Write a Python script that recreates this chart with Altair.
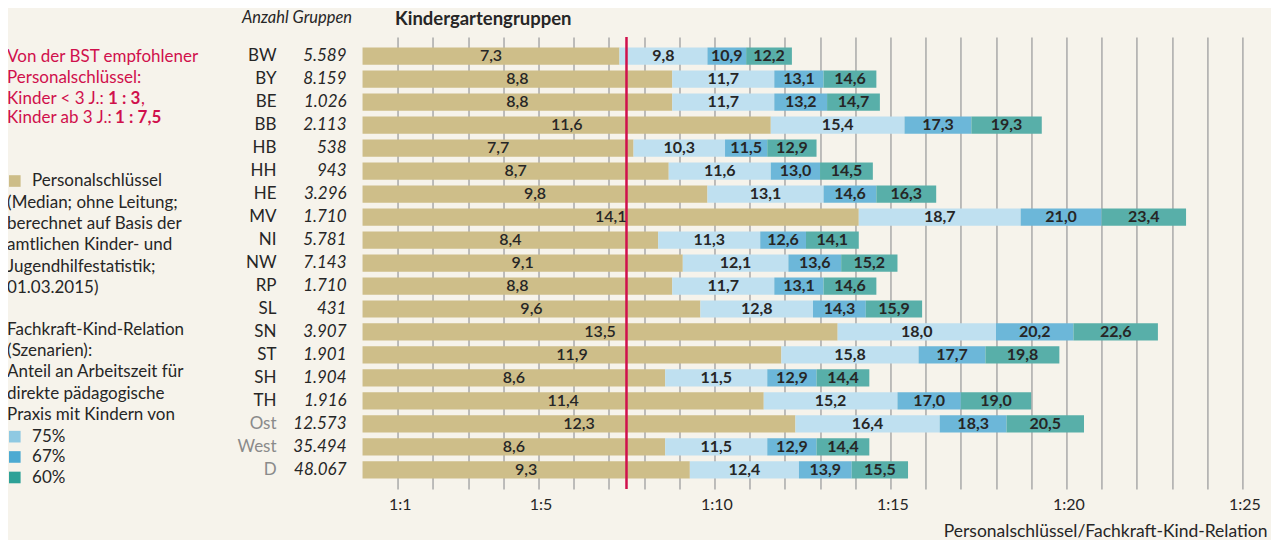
import altair as alt
import pandas as pd

# ---------------- data ----------------
states = ["BW", "BY", "BE", "BB", "HB", "HH", "HE", "MV", "NI", "NW", "RP", "SL",
          "SN", "ST", "SH", "TH", "Ost", "West", "D"]
groups = ["5.589", "8.159", "1.026", "2.113", "538", "943", "3.296", "1.710", "5.781",
          "7.143", "1.710", "431", "3.907", "1.901", "1.904", "1.916", "12.573",
          "35.494", "48.067"]
personal = [7.3, 8.8, 8.8, 11.6, 7.7, 8.7, 9.8, 14.1, 8.4, 9.1, 8.8, 9.6, 13.5, 11.9,
            8.6, 11.4, 12.3, 8.6, 9.3]
fk75 = [9.8, 11.7, 11.7, 15.4, 10.3, 11.6, 13.1, 18.7, 11.3, 12.1, 11.7, 12.8, 18.0,
        15.8, 11.5, 15.2, 16.4, 11.5, 12.4]
fk67 = [10.9, 13.1, 13.2, 17.3, 11.5, 13.0, 14.6, 21.0, 12.6, 13.6, 13.1, 14.3, 20.2,
        17.7, 12.9, 17.0, 18.3, 12.9, 13.9]
fk60 = [12.2, 14.6, 14.7, 19.3, 12.9, 14.5, 16.3, 23.4, 14.1, 15.2, 14.6, 15.9, 22.6,
        19.8, 14.4, 19.0, 20.5, 14.4, 15.5]
series_names = ["Personalschlüssel", "75%", "67%", "60%"]
tick_values = list(range(1, 26))
bst_value = [7.5]
gray_states = ["Ost", "West", "D"]

# ---------------- styles ----------------
bar_colors = ["#cebe89", "#bfe0f0", "#6cb7d9", "#58afa9"]
swatch_colors = ["#cdbd88", "#8fc9e2", "#4caad2", "#2da197"]
BG = "#f6f3eb"
TXT = "#262626"
RED = "#d0104c"
FONT = "Lato"
LFS = 17  # left text font size

rows = []
for i, s in enumerate(states):
    vals = [personal[i], fk75[i], fk67[i], fk60[i]]
    start = 0.0
    for name, v in zip(series_names, vals):
        rows.append(dict(state=s, series=name, start=start, end=v,
                         label=f"{v:.1f}".replace(".", ",")))
        start = v
seg_df = pd.DataFrame(rows)
info_df = pd.DataFrame({"state": states, "groups": groups})

x_scale = alt.Scale(domain=[0, 25.7], nice=False, zero=True)
x_axis = alt.Axis(
    values=tick_values, grid=True, gridColor="#a9a9a9", gridWidth=1.5,
    ticks=False, domain=False, labelOverlap=False, labelFlush=False,
    labelExpr="(datum.value == 1 || datum.value % 5 == 0) ? '1:' + datum.value : ''",
    labelFont=FONT, labelFontSize=16, labelColor=TXT, labelPadding=8, labelOffset=2,
    title="Personalschlüssel/Fachkraft-Kind-Relation", titleFont=FONT,
    titleFontSize=17.5, titleFontWeight="normal", titleColor=TXT,
    titleAnchor="end", titlePadding=10,
)
y_enc = alt.Y("state:N", sort=states,
              scale=alt.Scale(domain=states, paddingInner=0.25, paddingOuter=0.45),
              axis=None)

bars = alt.Chart(seg_df).mark_bar().encode(
    x=alt.X("start:Q", scale=x_scale, axis=x_axis),
    x2="end:Q",
    y=y_enc,
    color=alt.Color("series:N", scale=alt.Scale(domain=series_names, range=bar_colors),
                    legend=None),
)

lab_base = alt.Chart(seg_df).transform_calculate(mid="(datum.start + datum.end) / 2")
labels_light = lab_base.transform_filter(
    alt.FieldOneOfPredicate(field="series", oneOf=["Personalschlüssel"])
).mark_text(font=FONT, fontSize=16, fontWeight=600, color=TXT, baseline="middle").encode(
    x=alt.X("mid:Q", scale=x_scale, axis=x_axis), y=y_enc, text="label:N")
labels_bold = lab_base.transform_filter(
    alt.FieldOneOfPredicate(field="series", oneOf=["75%", "67%", "60%"])
).mark_text(font=FONT, fontSize=16, fontWeight="bold", color=TXT, baseline="middle").encode(
    x=alt.X("mid:Q", scale=x_scale, axis=x_axis), y=y_enc, text="label:N")

rule = alt.Chart(pd.DataFrame({"v": bst_value})).mark_rule(
    color=RED, strokeWidth=2.5).encode(x=alt.X("v:Q", scale=x_scale, axis=x_axis))

codes = alt.Chart(info_df).mark_text(
    font=FONT, fontSize=17, align="right", baseline="middle").encode(
    x=alt.value(-86), y=y_enc, text="state:N",
    color=alt.condition(alt.FieldOneOfPredicate(field="state", oneOf=gray_states),
                        alt.value("#8a8a8a"), alt.value(TXT)))
counts = alt.Chart(info_df).mark_text(
    font=FONT, fontSize=17, fontStyle="italic", align="right", baseline="middle",
    color=TXT).encode(x=alt.value(-16), y=y_enc, text="groups:N")


def annot(text, x, y, **kw):
    props = dict(font=FONT, fontSize=LFS, align="left", baseline="middle", color=TXT)
    props.update(kw)
    return alt.Chart(pd.DataFrame({"t": [text]})).mark_text(**props).encode(
        x=alt.value(x), y=alt.value(y), text="t:N")


def swatch(color, x, y):
    return alt.Chart(pd.DataFrame({"t": [0]})).mark_square(
        size=135, color=color, filled=True, opacity=1).encode(
        x=alt.value(x), y=alt.value(y))


LX = -355.5
layers = [
    bars, rule, labels_light, labels_bold, codes, counts,
    annot("Anzahl Gruppen", -10.5, -19, fontSize=16.5, fontStyle="italic", align="right"),
    annot("Kindergartengruppen", 32.5, -18, fontSize=18.5, fontWeight="bold"),
    annot("Von der BST empfohlener\nPersonalschlüssel:", LX, 19.7, color=RED,
          lineBreak="\n", lineHeight=21),
    annot("Kinder < 3 J.: ", LX, 62, color=RED),
    annot("1 : 3", -254.5, 62, color=RED, fontWeight="bold"),
    annot(",", -221.5, 62, color=RED),
    annot("Kinder ab 3 J.: ", LX, 81, color=RED),
    annot("1 : 7,5", -247.5, 81, color=RED, fontWeight="bold"),
    swatch(swatch_colors[0], -347.8, 144),
    annot("Personalschlüssel", -330.5, 144),
    annot("(Median; ohne Leitung;\nberechnet auf Basis der\namtlichen Kinder- und\n"
          "Jugendhilfestatistik;\n01.03.2015)", LX, 166.3, lineBreak="\n", lineHeight=21.1),
    annot("Fachkraft-Kind-Relation\n(Szenarien):\nAnteil an Arbeitszeit für\n"
          "direkte pädagogische\nPraxis mit Kindern von", LX, 293,
          lineBreak="\n", lineHeight=21.25),
    swatch(swatch_colors[1], -347.8, 399.7),
    annot("75%", -330.5, 400),
    swatch(swatch_colors[2], -347.8, 420),
    annot("67%", -330.5, 420.5),
    swatch(swatch_colors[3], -347.8, 440.5),
    annot("60%", -330.5, 441),
]

chart = alt.layer(*layers).properties(
    width=904.6, height=452,
    padding={"left": 354.6, "top": 29, "right": 4, "bottom": 53},
    autosize=alt.AutoSizeParams(type="none"),
    background=BG,
).configure_view(stroke=None)

chart.save("out.html", embed_options={"renderer": "svg", "actions": False})
